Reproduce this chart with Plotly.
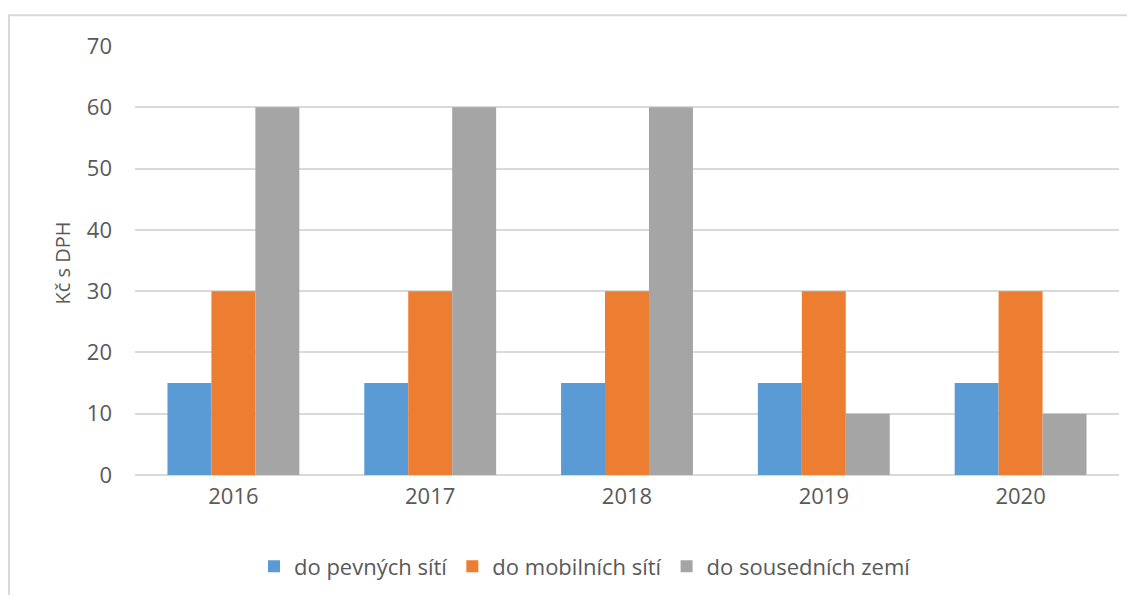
import plotly.graph_objects as go

years = ["2016", "2017", "2018", "2019", "2020"]
pevne = [15, 15, 15, 15, 15]
mobilni = [30, 30, 30, 30, 30]
sousedni = [60, 60, 60, 10, 10]

names = ["do pevných sítí", "do mobilních sítí", "do sousedních zemí"]
colors = ["#5B9BD5", "#ED7D31", "#A5A5A5"]
y_ticks = [0, 10, 20, 30, 40, 50, 60, 70]

FONT = "Open Sans"
TXT = "#595959"

fig = go.Figure()
for name, vals, col in zip(names, [pevne, mobilni, sousedni], colors):
    fig.add_trace(go.Bar(x=years, y=vals, name=name, marker=dict(color=col, line=dict(width=0))))

# page body has an 8px margin; work in reference-screen pixels and convert
OFF = 8
W, H = 1135 - 2 * OFF, 603 - 2 * OFF
L, R, T, B = 135 - OFF, 8, 46 - OFF, 603 - 478 - OFF
pw, ph = W - L - R, H - T - B

def px_x(x):
    return (x - OFF - L) / pw

def px_y(y):
    return (H - B - (y - OFF)) / ph

fig.update_layout(
    width=W, height=H,
    margin=dict(l=L, r=R, t=T, b=B),
    paper_bgcolor="white", plot_bgcolor="white",
    barmode="group", bargap=0.33, bargroupgap=0,
    font=dict(family=FONT, size=22, color=TXT),
    showlegend=True,
    legend=dict(orientation="h", x=px_x(585), xanchor="center", y=px_y(570), yanchor="middle",
                font=dict(family=FONT, size=22, color=TXT), itemwidth=30, traceorder="normal"),
    xaxis=dict(showgrid=False, showline=False, ticks="", tickfont=dict(size=22, color=TXT),
               ticklabelstandoff=6),
    yaxis=dict(range=[0, 70], tickvals=y_ticks, showgrid=True, gridcolor="#D9D9D9", gridwidth=1.5,
               zeroline=True, zerolinecolor="#D9D9D9", zerolinewidth=1.5, showline=False, ticks="",
               tickfont=dict(size=22, color=TXT), ticklabelstandoff=22),
    annotations=[dict(text="Kč s DPH", xref="paper", yref="paper", x=px_x(62), y=px_y(265),
                      xanchor="center", yanchor="middle", textangle=-90, showarrow=False,
                      font=dict(family=FONT, size=20, color=TXT))],
    shapes=[dict(type="rect", xref="paper", yref="paper", x0=px_x(9), x1=px_x(1200),
                 y0=px_y(700), y1=px_y(15), line=dict(color="#D9D9D9", width=2),
                 fillcolor="rgba(0,0,0,0)", layer="below")],
)

fig.write_html("out.html")
